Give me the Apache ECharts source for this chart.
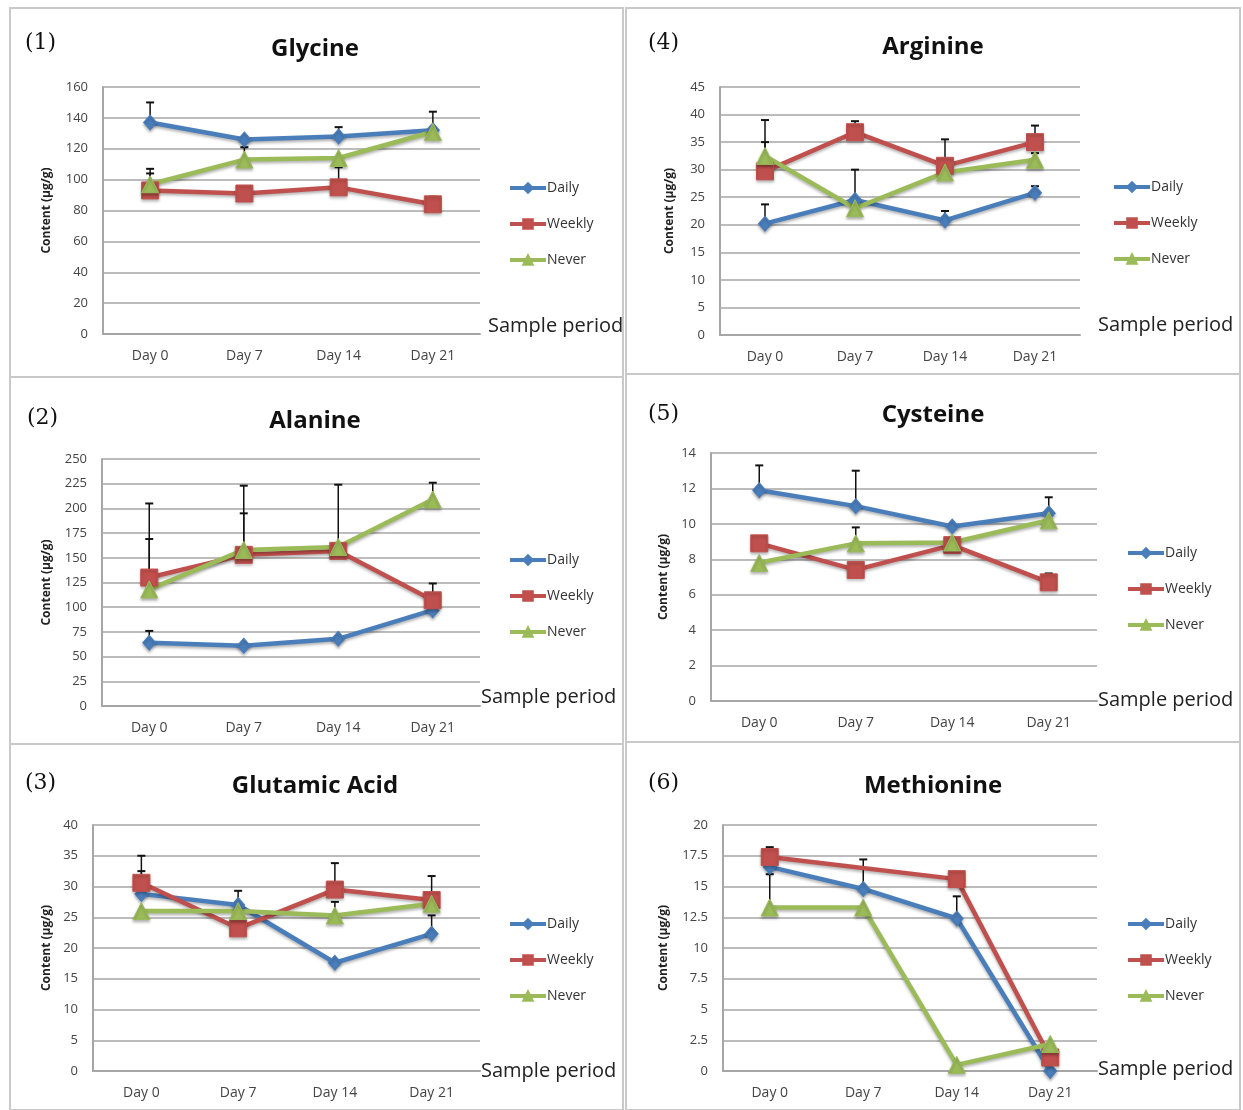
<!DOCTYPE html>
<html><head><meta charset="utf-8">
<script src="https://cdn.jsdelivr.net/npm/echarts@6/dist/echarts.min.js"></script>
<style>html,body{margin:0;padding:0;background:#fff}#c{width:1243px;height:1110px}</style>
</head><body><div id="c"></div>
<script>
// ---------- data ----------
const days = ['Day 0', 'Day 7', 'Day 14', 'Day 21'];
const groups = ['Daily', 'Weekly', 'Never'];

// Glycine
const glyDaily  = [137, 126, 128, 132];   const glyDailyUp  = [150, null, 134, 144];
const glyWeekly = [93, 91, 95, 84];       const glyWeeklyUp = [104, null, 108, 89];
const glyNever  = [97, 113, 114, 131];    const glyNeverUp  = [107, 121, null, null];
// Alanine
const alaDaily  = [64, 61, 68, 97];       const alaDailyUp  = [76, null, null, null];
const alaWeekly = [130, 153, 157, 107];   const alaWeeklyUp = [205, 195, 224, 124];
const alaNever  = [118, 158, 161, 209];   const alaNeverUp  = [169, 223, null, 226];
// Glutamic Acid
const gluDaily  = [28.8, 27.0, 17.6, 22.3]; const gluDailyUp  = [32.5, 29.3, null, 25.3];
const gluWeekly = [30.6, 23.2, 29.5, 27.8]; const gluWeeklyUp = [35, null, 33.8, 31.7];
const gluNever  = [26.0, 26.0, 25.3, 27.2]; const gluNeverUp  = [null, null, 27.5, null];
// Arginine
const argDaily  = [20.2, 24.5, 20.8, 25.8]; const argDailyUp  = [23.7, 30, 22.5, 27];
const argWeekly = [29.7, 36.8, 30.7, 35.0]; const argWeeklyUp = [35, 38.8, 35.5, 38];
const argNever  = [32.5, 23.0, 29.5, 31.8]; const argNeverUp  = [39, null, null, 33];
// Cysteine
const cysDaily  = [11.9, 11.0, 9.85, 10.6]; const cysDailyUp  = [13.3, 13.0, null, 11.5];
const cysWeekly = [8.9, 7.4, 8.8, 6.7];     const cysWeeklyUp = [null, null, null, 7.2];
const cysNever  = [7.8, 8.9, 8.95, 10.2];   const cysNeverUp  = [null, 9.8, null, null];
// Methionine
const metDaily  = [16.6, 14.8, 12.4, 0];    const metDailyUp  = [null, 17.2, 14.2, null];
const metWeekly = [17.4, null, 15.6, 1.1];  const metWeeklyUp = [18.2, null, null, null];
const metNever  = [13.3, 13.3, 0.5, 2.2];   const metNeverUp  = [16, null, null, null];

const panelTitles = ['Glycine', 'Alanine', 'Glutamic Acid', 'Arginine', 'Cysteine', 'Methionine'];
const panelNums = ['(1)', '(2)', '(3)', '(4)', '(5)', '(6)'];
const yMax = [160, 250, 40, 45, 14, 20];
const yStep = [20, 25, 5, 5, 2, 2.5];
const values = [
  [glyDaily, glyWeekly, glyNever], [alaDaily, alaWeekly, alaNever], [gluDaily, gluWeekly, gluNever],
  [argDaily, argWeekly, argNever], [cysDaily, cysWeekly, cysNever], [metDaily, metWeekly, metNever]
];
const uppers = [
  [glyDailyUp, glyWeeklyUp, glyNeverUp], [alaDailyUp, alaWeeklyUp, alaNeverUp], [gluDailyUp, gluWeeklyUp, gluNeverUp],
  [argDailyUp, argWeeklyUp, argNeverUp], [cysDailyUp, cysWeeklyUp, cysNeverUp], [metDailyUp, metWeeklyUp, metNeverUp]
];

// ---------- layout ----------
const layout = [
  {box:[10,8,613,369],   grid:[103,87,377,247],  title:[315,47],  num:[25,43],   leg:[508,181],  yGap:50, sp:[488,326]},
  {box:[10,377,613,367], grid:[102,459,378,247], title:[315,419], num:[27,418],  leg:[508,553],  yGap:49, sp:[481,697]},
  {box:[10,744,613,366], grid:[93,825,387,246],  title:[315,784], num:[25,783],  leg:[508,917],  yGap:40, sp:[481,1071]},
  {box:[626,8,614,366],  grid:[720,87,360,248],  title:[933,45],  num:[648,43],  leg:[1112,180], yGap:44, sp:[1098,325]},
  {box:[626,374,614,368],grid:[711,453,386,248], title:[933,413], num:[648,414], leg:[1126,546], yGap:41, sp:[1098,700]},
  {box:[626,742,614,368],grid:[723,825,374,246], title:[933,784], num:[648,783], leg:[1126,917], yGap:53, sp:[1098,1069]}
];
const colors = ['#4a7ebb', '#c0504d', '#9bbb59'];
const symbols = ['diamond', 'rect', 'triangle'];
const symSizes = [[13, 15], 17, 17];
const FONT = 'Open Sans';

function renderErr(params, api) {
  const x = api.value(0), v = api.value(1), u = api.value(2);
  const p0 = api.coord([x, v]);
  const p1 = api.coord([x, u]);
  return {
    type: 'group',
    children: [
      {type: 'line', shape: {x1: p0[0], y1: p0[1], x2: p1[0], y2: p1[1]}, style: {stroke: '#111', lineWidth: 1.5}},
      {type: 'line', shape: {x1: p1[0] - 4, y1: p1[1], x2: p1[0] + 4, y2: p1[1]}, style: {stroke: '#111', lineWidth: 2}}
    ]
  };
}

const option = {
  animation: false,
  backgroundColor: '#fff',
  title: [], legend: [], grid: [], xAxis: [], yAxis: [], series: [], graphic: []
};

layout.forEach((L, p) => {
  option.graphic.push({type: 'rect', shape: {x: L.box[0], y: L.box[1], width: L.box[2], height: L.box[3]},
    style: {fill: 'none', stroke: '#c9c9c9', lineWidth: 2}, z: -1});
  option.graphic.push({type: 'text', x: L.num[0], y: L.num[1],
    style: {text: panelNums[p], font: '22px "DejaVu Serif"', fill: '#111', verticalAlign: 'middle'}});
  option.graphic.push({type: 'text', x: L.sp[0], y: L.sp[1],
    style: {text: 'Sample period', font: '20px "Open Sans"', fill: '#222', verticalAlign: 'middle'}});
  option.title.push({text: panelTitles[p], left: L.title[0], top: L.title[1] - 10, textAlign: 'center', padding: 0,
    textStyle: {fontFamily: FONT, fontWeight: 'bold', fontSize: 24, color: '#111'}});
  option.legend.push({orient: 'vertical', left: L.leg[0], top: L.leg[1], padding: 0, itemWidth: 36, itemHeight: 12,
    itemGap: 22, data: groups, lineStyle: {width: 4},
    textStyle: {fontFamily: FONT, fontSize: 14, color: '#333', padding: [0, 0, 0, -4]}});
  option.grid.push({left: L.grid[0], top: L.grid[1], width: L.grid[2], height: L.grid[3], containLabel: false});
  option.xAxis.push({type: 'category', gridIndex: p, data: days, boundaryGap: true,
    axisLine: {show: true, lineStyle: {color: '#a6a6a6', width: 2}}, axisTick: {show: false},
    axisLabel: {fontFamily: FONT, fontSize: 14, color: '#444', margin: 15}});
  option.yAxis.push({type: 'value', gridIndex: p, min: 0, max: yMax[p], interval: yStep[p],
    name: 'Content (µg/g)', nameLocation: 'middle', nameRotate: 90, nameGap: L.yGap,
    nameTextStyle: {fontFamily: FONT, fontSize: 12, fontWeight: 'bold', color: '#222'},
    axisLine: {show: true, lineStyle: {color: '#a6a6a6', width: 2}}, axisTick: {show: false},
    axisLabel: {fontFamily: FONT, fontSize: 13, color: '#444', margin: 15},
    splitLine: {show: true, lineStyle: {color: '#a6a6a6', width: 1.5}}});
  groups.forEach((g, s) => {
    option.series.push({type: 'line', name: g, xAxisIndex: p, yAxisIndex: p, data: values[p][s],
      connectNulls: true, symbol: symbols[s], symbolSize: symSizes[s], z: 3,
      lineStyle: {color: colors[s], width: 4.5, shadowColor: 'rgba(0,0,0,0.3)', shadowBlur: 3, shadowOffsetY: 2},
      itemStyle: {color: colors[s], borderColor: colors[s], borderWidth: 1, shadowColor: 'rgba(0,0,0,0.3)', shadowBlur: 3, shadowOffsetY: 2}});
    const errData = [];
    uppers[p][s].forEach((u, i) => { if (u !== null && values[p][s][i] !== null) errData.push([i, values[p][s][i], u]); });
    option.series.push({type: 'custom', name: g + ' error', xAxisIndex: p, yAxisIndex: p, z: 2,
      renderItem: renderErr, encode: {x: 0, y: [1, 2]}, data: errData, silent: true});
  });
});

const chart = echarts.init(document.getElementById('c'), null, {renderer: 'canvas'});
chart.setOption(option);
</script>
</body></html>
